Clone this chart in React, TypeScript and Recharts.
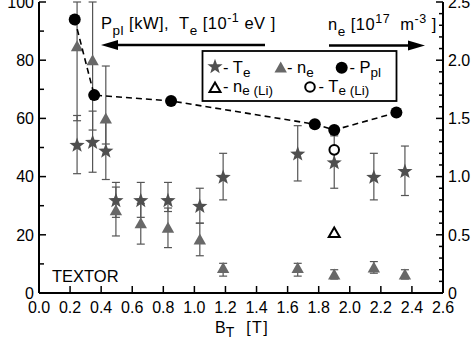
import React from 'react';
import { ScatterChart, Scatter, XAxis, YAxis, ErrorBar } from 'recharts';

// ---- data ----
const bT = [0.245, 0.345, 0.43, 0.495, 0.655, 0.83, 1.035, 1.185, 1.665, 1.9, 2.155, 2.355];
const teVals = [51, 52, 49, 32, 32, 32, 30, 40, 48, 45, 40, 42];
const teErrLow = [10, 10.5, 10, 6, 6, 4, 6, 8, 9.5, 9, 8, 8.5];
const teErrHigh = [10, 10.5, 10, 6, 6, 6, 6, 8, 9.5, 9, 8, 8.5];
const neVals = [2.12, 2.0, 1.5, 0.71, 0.6, 0.56, 0.46, 0.215, 0.215, 0.16, 0.22, 0.16];
const neErrLow = [0.64, 0.6, 0.22, 0.22, 0.18, 0.17, 0.14, 0.07, 0.07, 0.04, 0.05, 0.04];
const neErrHigh = [0.38, 0.5, 0.45, 0.2, 0.17, 0.17, 0.14, 0.04, 0.04, 0.04, 0.05, 0.04];
const bPpl = [0.23, 0.355, 0.85, 1.775, 1.9, 2.3];
const pplVals = [94, 68, 66, 58, 56, 62];
const bLi = [1.9];
const teLiVals = [49.2];
const neLiVals = [0.52];

const xTicks = [0, 0.2, 0.4, 0.6, 0.8, 1.0, 1.2, 1.4, 1.6, 1.8, 2.0, 2.2, 2.4, 2.6];
const leftTicks = [0, 10, 20, 30, 40, 50, 60, 70, 80, 90, 100];
const leftLabels = [0, 20, 40, 60, 80, 100];
const rightTicks = [0, 0.1, 0.2, 0.3, 0.4, 0.5, 0.6, 0.7, 0.8, 0.9, 1.0, 1.1, 1.2, 1.3, 1.4, 1.5, 1.6, 1.7, 1.8, 1.9, 2.0, 2.1, 2.2, 2.3, 2.4, 2.5];
const rightLabels = [0, 0.5, 1.0, 1.5, 2.0, 2.5];

const teData = bT.map((b, i) => ({ b, v: teVals[i], err: [teErrLow[i], teErrHigh[i]] }));
const neData = bT.map((b, i) => ({ b, v: neVals[i], err: [neErrLow[i], neErrHigh[i]] }));
const pplData = bPpl.map((b, i) => ({ b, v: pplVals[i] }));
const teLiData = bLi.map((b, i) => ({ b, v: teLiVals[i] }));
const neLiData = bLi.map((b, i) => ({ b, v: neLiVals[i] }));

// ---- styles ----
const FONT = '"Liberation Sans", Arial, Helvetica, sans-serif';
const STAR_COLOR = '#4f4f4f';
const TRI_COLOR = '#686868';
const ERR_COLOR = '#555555';

const starPath = (cx: number, cy: number, R: number, r: number) => {
  let d = '';
  for (let i = 0; i < 10; i++) {
    const rad = i % 2 === 0 ? R : r;
    const a = -Math.PI / 2 + (i * Math.PI) / 5;
    d += (i === 0 ? 'M' : 'L') + (cx + rad * Math.cos(a)).toFixed(2) + ',' + (cy + rad * Math.sin(a)).toFixed(2);
  }
  return d + 'Z';
};

const StarShape = (p: any) =>
  p.cx == null ? <g /> : <path d={starPath(p.cx, p.cy + 0.8, 8, 3.3)} fill={STAR_COLOR} />;
const TriShape = (p: any) =>
  p.cx == null ? <g /> : (
    <path d={`M${p.cx},${p.cy - 6}L${p.cx + 6.2},${p.cy + 5}L${p.cx - 6.2},${p.cy + 5}Z`} fill={TRI_COLOR} />
  );
const CircleShape = (p: any) =>
  p.cx == null ? <g /> : <circle cx={p.cx} cy={p.cy} r={6} fill="#000" />;
const OpenCircleShape = (p: any) =>
  p.cx == null ? <g /> : <circle cx={p.cx} cy={p.cy} r={4.8} fill="#fff" stroke="#000" strokeWidth={2} />;
const OpenTriShape = (p: any) =>
  p.cx == null ? <g /> : (
    <path d={`M${p.cx},${p.cy - 5}L${p.cx + 5.5},${p.cy + 4.5}L${p.cx - 5.5},${p.cy + 4.5}Z`} fill="#fff" stroke="#000" strokeWidth={2} strokeLinejoin="miter" />
  );

// ---- ticks ----
const BottomTick = (p: any) => {
  const { x, y, payload } = p;
  return (
    <g>
      <line x1={x} y1={y} x2={x} y2={y - 7} stroke="#000" strokeWidth={1.5} />
      <text x={x} y={y + 20} textAnchor="middle" fontSize={16} fontFamily={FONT} fill="#000">
        {Number(payload.value).toFixed(1)}
      </text>
    </g>
  );
};
const TopTick = (p: any) => {
  const { x, y } = p;
  return <line x1={x} y1={y} x2={x} y2={y + 6} stroke="#000" strokeWidth={1.5} />;
};
const LeftTick = (p: any) => {
  const { x, y, payload } = p;
  const v = Number(payload.value);
  const major = leftLabels.includes(v);
  return (
    <g>
      <line x1={x} y1={y} x2={x + (major ? 7 : 5)} y2={y} stroke="#000" strokeWidth={1.5} />
      {major && (
        <text x={x - 5} y={y} dy="0.36em" textAnchor="end" fontSize={16} fontFamily={FONT} fill="#000">
          {String(v)}
        </text>
      )}
    </g>
  );
};
const RightTick = (p: any) => {
  const { x, y, payload } = p;
  const v = Number(payload.value);
  const major = rightLabels.some((m) => Math.abs(m - v) < 1e-6);
  return (
    <g>
      <line x1={x} y1={y} x2={x - (major ? 7 : 4)} y2={y} stroke="#000" strokeWidth={1.5} />
      {major && (
        <text x={x + 5} y={y} dy="0.36em" textAnchor="start" fontSize={16} fontFamily={FONT} fill="#000">
          {v === 0 ? '0' : v.toFixed(1)}
        </text>
      )}
    </g>
  );
};

const axisLine = { stroke: '#000', strokeWidth: 2 };

const Overlay = () => (
  <svg width={472} height={344} style={{ position: 'absolute', left: 0, top: 0, pointerEvents: 'none' }}>
    <g fontFamily={FONT} fill="#000">
      <text x={101} y={29} fontSize={16.5} letterSpacing={0.5} xmlSpace="preserve" style={{ whiteSpace: 'pre' }}>
        P<tspan fontSize={13.5} dy={6}>pl</tspan>
        <tspan dy={-6}>{' [kW],  T'}</tspan>
        <tspan fontSize={13.5} dy={6}>e</tspan>
        <tspan dy={-6}>{' [10'}</tspan>
        <tspan fontSize={12.5} dy={-7}>-1</tspan>
        <tspan dy={7}>{' eV ]'}</tspan>
      </text>
      <text x={328} y={30} fontSize={16.5} letterSpacing={0.5} xmlSpace="preserve" style={{ whiteSpace: 'pre' }}>
        n<tspan fontSize={13.5} dy={6}>e</tspan>
        <tspan dy={-6}>{' [10'}</tspan>
        <tspan fontSize={12.5} dy={-7}>17</tspan>
        <tspan dy={7}>{'  m'}</tspan>
        <tspan fontSize={12.5} dy={-7}>-3</tspan>
        <tspan dy={7}>{' ]'}</tspan>
      </text>
      <text x={52} y={282} fontSize={16.5}>TEXTOR</text>
      <text x={215} y={333} fontSize={16} xmlSpace="preserve" style={{ whiteSpace: 'pre' }}>
        B<tspan fontSize={14} dy={3.5}>T</tspan>
        <tspan dy={-3.5} letterSpacing={1.5}>{'  [T]'}</tspan>
      </text>
    </g>
    {/* arrows */}
    <line x1={265} y1={45} x2={114} y2={45} stroke="#000" strokeWidth={2.5} />
    <path d="M101,45L118,40L118,50Z" fill="#000" />
    <line x1={329} y1={45.5} x2={412} y2={45.5} stroke="#000" strokeWidth={2.5} />
    <path d="M425,45.5L408,40.5L408,50.5Z" fill="#000" />
    {/* legend */}
    <rect x={202.5} y={51} width={194} height={50} fill="#fff" stroke="#000" strokeWidth={1.8} />
    <g fontFamily={FONT} fill="#000">
      <StarShape cx={215} cy={66} />
      <text x={223} y={72.5} fontSize={16.5} xmlSpace="preserve" style={{ whiteSpace: 'pre' }}>
        - T<tspan fontSize={13.5} dy={4}>e</tspan>
      </text>
      <TriShape cx={280.7} cy={67.5} />
      <text x={287} y={72.5} fontSize={16.5} xmlSpace="preserve" style={{ whiteSpace: 'pre' }}>
        - n<tspan fontSize={13.5} dy={4}>e</tspan>
      </text>
      <CircleShape cx={341.7} cy={67.7} />
      <text x={349.5} y={72.5} fontSize={16.5} xmlSpace="preserve" style={{ whiteSpace: 'pre' }}>
        - P<tspan fontSize={13.5} dy={4}>pl</tspan>
      </text>
      <OpenTriShape cx={215} cy={87.5} />
      <text x={223} y={91.5} fontSize={16.5} xmlSpace="preserve" style={{ whiteSpace: 'pre' }}>
        - n<tspan fontSize={13.5} dy={3}>e (Li)</tspan>
      </text>
      <OpenCircleShape cx={310} cy={87} />
      <text x={318.5} y={91.5} fontSize={16.5} xmlSpace="preserve" style={{ whiteSpace: 'pre' }}>
        - T<tspan fontSize={13.5} dy={3}>e (Li)</tspan>
      </text>
    </g>
  </svg>
);

export default function App() {
  return (
    <div style={{ position: 'absolute', left: 0, top: 0, width: 472, height: 344, background: '#fff' }}>
      <ScatterChart width={472} height={344} margin={{ top: 2, right: 0, bottom: 0, left: 0 }}>
        <XAxis
          xAxisId="b"
          type="number"
          dataKey="b"
          domain={[0, 2.6]}
          ticks={xTicks}
          interval={0}
          allowDataOverflow
          height={51}
          tickSize={0}
          tickMargin={0}
          tick={BottomTick}
          axisLine={axisLine}
          tickLine={false}
        />
        <XAxis
          xAxisId="t"
          orientation="top"
          type="number"
          dataKey="b"
          domain={[0, 2.6]}
          ticks={xTicks}
          interval={0}
          allowDataOverflow
          height={0}
          tickSize={0}
          tickMargin={0}
          tick={TopTick}
          axisLine={axisLine}
          tickLine={false}
        />
        <YAxis
          yAxisId="l"
          type="number"
          dataKey="v"
          domain={[0, 100]}
          ticks={leftTicks}
          interval={0}
          allowDataOverflow
          width={39}
          tickSize={0}
          tickMargin={0}
          tick={LeftTick}
          axisLine={axisLine}
          tickLine={false}
        />
        <YAxis
          yAxisId="r"
          orientation="right"
          type="number"
          dataKey="v"
          domain={[0, 2.5]}
          ticks={rightTicks}
          interval={0}
          allowDataOverflow
          width={29}
          tickSize={0}
          tickMargin={0}
          tick={RightTick}
          axisLine={axisLine}
          tickLine={false}
        />
        <Scatter xAxisId="b" yAxisId="r" data={neData} dataKey="v" shape={TriShape} isAnimationActive={false}>
          <ErrorBar dataKey="err" direction="y" width={4} stroke={ERR_COLOR} strokeWidth={1.2} />
        </Scatter>
        <Scatter xAxisId="b" yAxisId="l" data={teData} dataKey="v" shape={StarShape} isAnimationActive={false}>
          <ErrorBar dataKey="err" direction="y" width={4} stroke={ERR_COLOR} strokeWidth={1.2} />
        </Scatter>
        <Scatter xAxisId="b" yAxisId="r" data={neLiData} dataKey="v" shape={OpenTriShape} isAnimationActive={false} />
        <Scatter xAxisId="b" yAxisId="l" data={teLiData} dataKey="v" shape={OpenCircleShape} isAnimationActive={false} />
        <Scatter
          xAxisId="b"
          yAxisId="l"
          data={pplData}
          dataKey="v"
          shape={CircleShape}
          line={{ stroke: '#000', strokeWidth: 1.6, strokeDasharray: '6 4' }}
          lineType="joint"
          isAnimationActive={false}
        />
      </ScatterChart>
      <Overlay />
    </div>
  );
}
